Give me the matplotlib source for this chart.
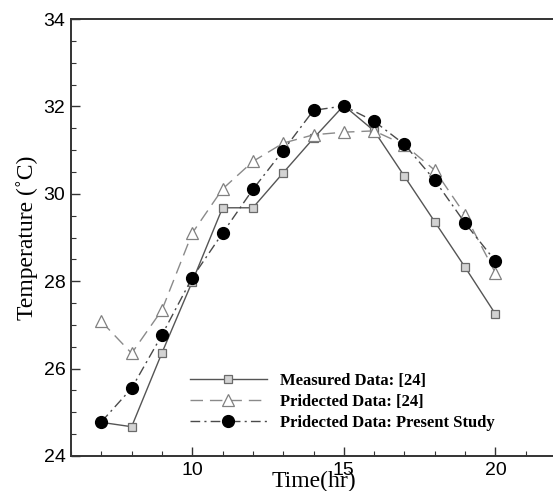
import matplotlib
matplotlib.use('Agg')
import matplotlib.pyplot as plt
from matplotlib.ticker import MultipleLocator

# values
hours = [7, 8, 9, 10, 11, 12, 13, 14, 15, 16, 17, 18, 19, 20]
measured = [24.77, 24.67, 26.36, 27.99, 29.68, 29.68, 30.48, 31.27, 32.02, 31.44, 30.40, 29.36, 28.32, 27.25]
predicted_ref = [27.08, 26.35, 27.34, 29.10, 30.11, 30.74, 31.16, 31.35, 31.41, 31.44, 31.12, 30.54, 29.52, 28.19]
present_study = [24.78, 25.55, 26.77, 28.08, 29.10, 30.10, 30.99, 31.91, 32.01, 31.66, 31.13, 30.31, 29.33, 28.46]

labels = ['Measured Data: [24]', 'Pridected Data: [24]', 'Pridected Data: Present Study']

fig = plt.figure(figsize=(5.53, 4.91), dpi=100)
ax = fig.add_axes([71/553, 35/491, 485/553, 437/491])

ax.plot(hours, measured, '-', color='#555555', lw=1.0,
        marker='s', ms=6, mfc='#d3d3d3', mec='#6a6a6a', mew=0.9, label=labels[0])
ax.plot(hours, predicted_ref, color='#8a8a8a', lw=1.0, dashes=(9, 5),
        marker='^', ms=8, mfc='white', mec='#808080', mew=0.9, label=labels[1])
ax.plot(hours, present_study, color='#4a4a4a', lw=1.0, dashes=(7, 3, 1.5, 3),
        marker='o', ms=8.5, mfc='black', mec='black', label=labels[2])

ax.set_xlim(6, 22)
ax.set_ylim(24, 34)
ax.xaxis.set_major_locator(MultipleLocator(5))
ax.xaxis.set_minor_locator(MultipleLocator(1))
ax.yaxis.set_major_locator(MultipleLocator(2))
ax.yaxis.set_minor_locator(MultipleLocator(0.5))

ax.tick_params(which='both', direction='in', top=False, right=False, colors='#333333',
               labelcolor='black', labelsize=14)
ax.tick_params(which='major', length=6.5, width=1.0, pad=4)
ax.tick_params(which='minor', length=3.6, width=0.8)
for lab in ax.get_xticklabels() + ax.get_yticklabels():
    lab.set_family('Liberation Sans')

ax.spines['right'].set_visible(False)
for s in ['left', 'top', 'bottom']:
    ax.spines[s].set_linewidth(1.4)
    ax.spines[s].set_color('#333333')

ax.set_xlabel('Time(hr)', family='Liberation Serif', fontsize=17, va='center')
ax.set_ylabel('Temperature (˚C)', family='Liberation Serif', fontsize=17, va='center')
ax.xaxis.set_label_coords(0.5, -0.058)
ax.yaxis.set_label_coords(-0.091, 0.5)

ax.legend(loc='upper left', bbox_to_anchor=(190/553, 1 - 373/491),
          bbox_transform=fig.transFigure, frameon=False, borderpad=0, borderaxespad=0,
          handlelength=4.6, handletextpad=0.8, labelspacing=0.3,
          prop={'family': 'Liberation Serif', 'weight': 'bold', 'size': 12})

fig.savefig('out.png', dpi=100)
